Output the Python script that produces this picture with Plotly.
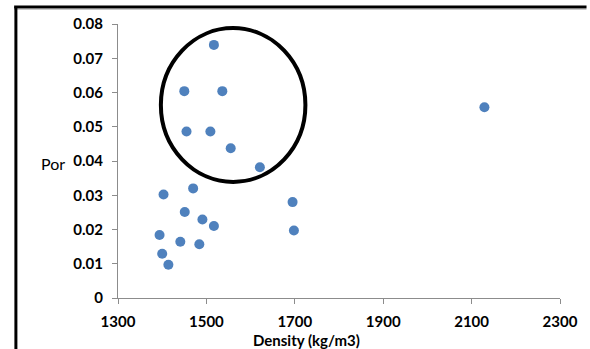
import plotly.graph_objects as go

density = [1517, 1450, 1536, 1455, 1509, 1555, 1621, 1403, 1470, 1451, 1491, 1517, 1394,
           1441, 1484, 1400, 1414, 1695, 1698, 2129]
porosity = [0.0739, 0.0604, 0.0604, 0.0486, 0.0486, 0.0437, 0.0382, 0.0302, 0.0320, 0.0251,
            0.0229, 0.0210, 0.0184, 0.0164, 0.0157, 0.0129, 0.0097, 0.0280, 0.0197, 0.0557]

x_ticks = [1300, 1500, 1700, 1900, 2100, 2300]
y_ticks = [0, 0.01, 0.02, 0.03, 0.04, 0.05, 0.06, 0.07, 0.08]
y_tick_labels = ["0", "0.01", "0.02", "0.03", "0.04", "0.05", "0.06", "0.07", "0.08"]

font_family = "Lato, 'Open Sans', sans-serif"

fig = go.Figure()
fig.add_trace(go.Scatter(
    x=density, y=porosity, mode="markers",
    marker=dict(color="#4F81BD", size=10, line=dict(width=0)),
    showlegend=False, hoverinfo="x+y",
))

fig.update_layout(
    width=590, height=349,
    margin=dict(l=118, r=26, t=24, b=51),
    paper_bgcolor="white", plot_bgcolor="white",
    font=dict(family=font_family, color="black"),
    xaxis=dict(range=[1300, 2300], tickvals=x_ticks, ticktext=[str(v) for v in x_ticks],
               showline=True, linecolor="#8c8c8c", linewidth=1, ticks="outside",
               ticklen=5, tickcolor="#8c8c8c", showgrid=False, zeroline=False,
               ticklabelstandoff=5,
               tickfont=dict(size=15, family=font_family, weight="bold"), fixedrange=True),
    yaxis=dict(range=[0, 0.08], tickvals=y_ticks, ticktext=y_tick_labels,
               showline=True, linecolor="#8c8c8c", linewidth=1, ticks="outside",
               ticklen=5, tickcolor="#8c8c8c", showgrid=False, zeroline=False,
               ticklabelstandoff=6,
               tickfont=dict(size=15, family=font_family, weight="bold"), fixedrange=True),
    shapes=[
        dict(type="circle", xref="x", yref="y", x0=1397, x1=1724, y0=0.0339, y1=0.0788,
             line=dict(color="black", width=4)),
        dict(type="line", xref="paper", yref="paper", x0=-0.235, x1=1.06, y0=1.062, y1=1.062,
             line=dict(color="black", width=3)),
        dict(type="line", xref="paper", yref="paper", x0=-0.235, x1=1.06, y0=1.053, y1=1.053,
             line=dict(color="#c8c8c8", width=1)),
        dict(type="line", xref="paper", yref="paper", x0=-0.231, x1=-0.231, y0=1.062, y1=-0.3,
             line=dict(color="black", width=3)),
    ],
    annotations=[
        dict(text="Por", xref="paper", yref="paper", x=(52 - 118) / 446, y=(297.7 - 163) / 273.7,
             xanchor="center", yanchor="middle", showarrow=False,
             font=dict(size=16, family=font_family, color="black")),
        dict(text="Density (kg/m3)", xref="paper", yref="paper", x=(308 - 118) / 446,
             y=(297.7 - 340) / 273.7, xanchor="center", yanchor="middle", showarrow=False,
             borderpad=0,
             font=dict(size=15, family=font_family, color="black", weight="bold")),
    ],
)

fig.write_html("out.html", config={"displayModeBar": False},
               post_script="document.body.style.margin='0';")
